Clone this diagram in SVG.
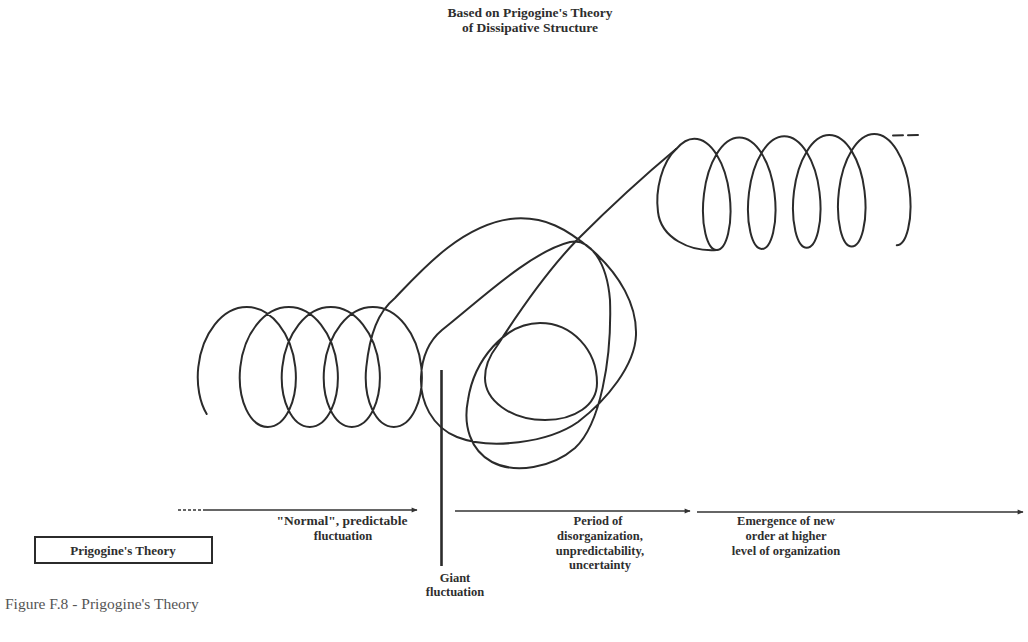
<svg xmlns="http://www.w3.org/2000/svg" width="1028" height="642" viewBox="0 0 1028 642">
  <defs>
    <style>
      .curve { fill: none; stroke: #2b2b2b; stroke-width: 2; stroke-linecap: round; stroke-linejoin: round; }
      .axis { fill: none; stroke: #333; stroke-width: 1.4; }
      .lbl { font-family: "Liberation Serif", "Times New Roman", serif; font-weight: bold; font-size: 12.5px; fill: #2e2e2e; text-anchor: middle; }
      .ttl { font-size: 13.5px; }
      .cap { font-family: "Liberation Serif", "Times New Roman", serif; font-size: 15.5px; fill: #555; }
    </style>
    <marker id="head" viewBox="0 0 10 10" refX="9" refY="5" markerWidth="8" markerHeight="6" markerUnits="userSpaceOnUse" orient="auto">
      <path d="M0,1 L10,5 L0,9 Z" fill="#333"/>
    </marker>
  </defs>
  <rect width="1028" height="642" fill="#ffffff"/>

  <g id="title">
    <text class="lbl ttl" x="530" y="17">Based on Prigogine's Theory</text>
    <text class="lbl ttl" x="530" y="32">of Dissipative Structure</text>
  </g>

  <g id="spiral">
    <path class="curve" d="M206.7,414 C199.8,402.8 196.3,385 198.3,367
      C201.8,333.86 222.31,307 246.8,307
      C271.29,307 291.8,333.86 295.3,367
      C298.8,400.14 285.29,427 267.8,427
      C250.31,427 236.8,400.14 240.3,367
      C243.8,333.86 264.31,307 288.8,307
      C313.29,307 333.8,333.86 337.3,367
      C340.8,400.14 327.29,427 309.8,427
      C292.31,427 278.8,400.14 282.3,367
      C285.8,333.86 306.31,307 330.8,307
      C355.29,307 375.8,333.86 379.3,367
      C382.8,400.14 369.29,427 351.8,427
      C334.31,427 320.8,400.14 324.3,367
      C327.8,333.86 348.31,307 372.8,307
      C397.29,307 417.8,333.86 421.3,367
      C424.8,400.14 411.29,427 393.8,427
      C376.31,427 362.8,400.14 366.3,367
      C369.8,333.86 378,312 395,298
      C420,272 460,226 510,219
      C545,215 568,230 592,250
      C620,275 637,305 636,335
      C635,365 607,400 578,422
      C548,443 490,450 457,437
      C432,427 420,402 421,377
      C422,355 430,340 442,330
      C480,300 530,252 570,242
      C590,238 607,262 610,300
      C612,360 600,425 575,448
      C552,468 515,474 492,462
      C470,450 463,425 468,400
      C474,360 505,323 540,323
      C572,323 597,350 597,383
      C597,405 575,420 545,420
      C510,420 485,400 485,378
      C485,365 490,355 497,346
      C520,310 550,268 577,240
      C605,212 645,175 676.4,148.8
      C681.8,142.5 688,138.7 694.25,138.7
      C711.26,138.7 725.75,163.47 729.5,194.4
      C733.25,225.33 726.26,250.1 716.75,250.1
      C707.24,250.1 700.25,224.73 704,193.8
      C707.75,162.87 722.24,137.5 739.25,137.5
      C756.26,137.5 770.75,162.27 774.5,193.2
      C778.25,224.13 771.26,248.9 761.75,248.9
      C752.24,248.9 745.25,223.53 749,192.6
      C752.75,161.67 767.24,136.3 784.25,136.3
      C801.26,136.3 815.75,161.07 819.5,192
      C823.25,222.93 816.26,247.7 806.75,247.7
      C797.24,247.7 790.25,222.33 794,191.4
      C797.75,160.47 812.24,135.1 829.25,135.1
      C846.26,135.1 860.75,159.87 864.5,190.8
      C868.25,221.73 861.26,246.5 851.75,246.5
      C842.24,246.5 835.25,221.13 839,190.2
      C842.75,159.27 857.24,133.9 874.25,133.9
      C891.26,133.9 905.75,158.67 909.5,189.6
      C913.25,220.53 906.26,245.3 896.75,245.3"/>
    <path class="curve" d="M676.4,148.8 C662,162 655,190 658,212 C661,238 690,252 716.75,250.1"/>
    <path class="curve" d="M893,135.5 L922,135" stroke-dasharray="10 5"/>
  </g>

  <g id="connectors">
    <path class="axis" d="M178,510 L205,510" stroke-dasharray="3 2"/>
    <path class="axis" d="M205,510 L417,510" marker-end="url(#head)"/>
    <path d="M441.5,370 L441.5,566" fill="none" stroke="#2b2b2b" stroke-width="2.6"/>
    <path class="axis" d="M455,511 L690,511" marker-end="url(#head)"/>
    <path class="axis" d="M697,512 L1023,512" marker-end="url(#head)"/>
  </g>

  <g id="normal">
    <text class="lbl" x="342" y="525" style="font-size:13.5px">"Normal", predictable</text>
    <text class="lbl" x="343" y="540">fluctuation</text>
  </g>

  <g id="theory-box">
    <rect x="35" y="537" width="177" height="26" fill="none" stroke="#2b2b2b" stroke-width="2"/>
    <text class="lbl" x="123" y="555" style="font-size:13px">Prigogine's Theory</text>
  </g>

  <g id="giant">
    <text class="lbl" x="455" y="582">Giant</text>
    <text class="lbl" x="455" y="596">fluctuation</text>
  </g>

  <g id="period">
    <text class="lbl" x="598" y="525">Period of</text>
    <text class="lbl" x="600" y="540">disorganization,</text>
    <text class="lbl" x="600" y="555">unpredictability,</text>
    <text class="lbl" x="600" y="569">uncertainty</text>
  </g>

  <g id="emergence">
    <text class="lbl" x="786" y="525">Emergence of new</text>
    <text class="lbl" x="786" y="540">order at higher</text>
    <text class="lbl" x="786" y="555">level of organization</text>
  </g>

  <g id="caption">
    <text class="cap" x="5" y="609">Figure F.8 - Prigogine's Theory</text>
  </g>
</svg>
